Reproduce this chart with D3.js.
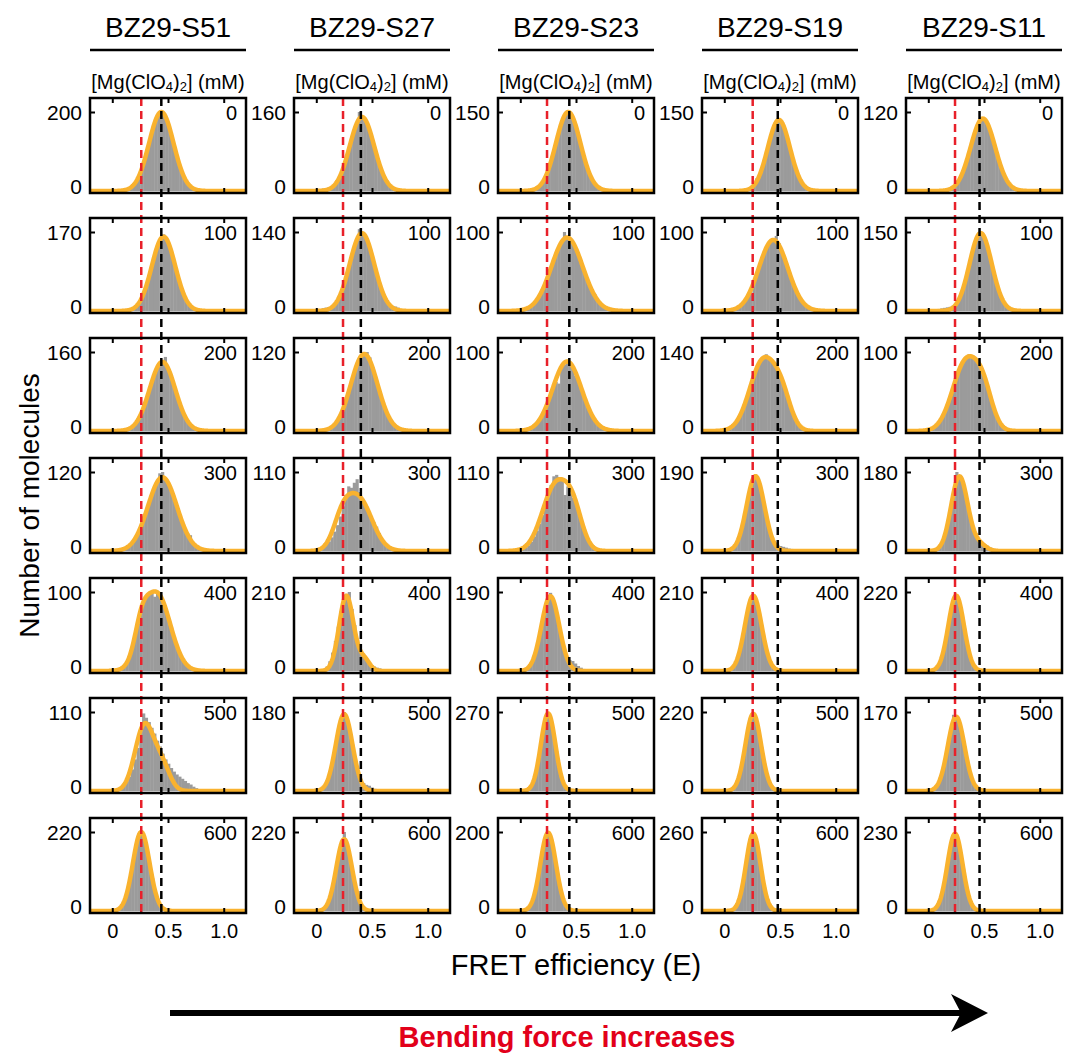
<!DOCTYPE html>
<html>
<head>
<meta charset="utf-8">
<script src="https://cdn.jsdelivr.net/npm/d3@7"></script>
<style>
body { margin: 0; background: #fff; }
text { font-family: "Liberation Sans", Arial, sans-serif; }
</style>
</head>
<body>
<div id="svgdiv"></div>
<script>
// samples (columns) and Mg(ClO4)2 concentration in mM (rows)
var samples = ["BZ29-S51", "BZ29-S27", "BZ29-S23", "BZ29-S19", "BZ29-S11"];
var concs = [0, 100, 200, 300, 400, 500, 600];

// y tick value printed on each panel
var yTicks = [
  [200, 170, 160, 120, 100, 110, 220],
  [160, 140, 120, 110, 210, 180, 220],
  [150, 100, 100, 110, 190, 270, 200],
  [150, 100, 140, 190, 210, 220, 260],
  [120, 150, 100, 180, 220, 170, 230]
];

// reference FRET values per sample (red dashed / black dashed)
var lowE = [0.26, 0.24, 0.24, 0.255, 0.24];
var highE = [0.44, 0.40, 0.44, 0.48, 0.46];

// histograms: centre of first bin, then counts (bin width 0.025)
var binW = 0.025;
var histStart = [
  [0.115, 0.16, 0.125, 0.075, 0.03, 0.005, 0.035],
  [0.01, 0.035, 0.005, -0.01, 0.07, 0.05, 0.05],
  [0.105, 0.02, 0.045, 0.0, 0.045, 0.05, 0.05],
  [0.115, 0.065, 0.0, 0.055, 0.035, 0.06, 0.06],
  [0.14, 0.045, -0.01, 0.055, 0.05, 0.025, 0.04]
];
var histCounts = [
  [
    [3,5,10,16,27,40,58,80,104,131,158,178,193,200,192,182,160,130,104,77,54,37,24,14,8,5,3],
    [3,5,10,17,27,40,58,80,101,125,144,158,165,157,142,122,100,78,56,38,25,15,8,4,2],
    [2,5,8,13,21,31,45,60,77,95,112,128,136,142,150,130,112,94,77,58,43,30,20,12,7,4,2],
    [1,3,5,8,12,17,25,36,52,55,70,84,96,106,118,120,108,103,93,82,70,57,44,34,27,24,12,8,5,3,2],
    [1,2,3,6,11,18,29,44,60,75,86,93,97,99,94,101,96,88,78,67,55,43,32,23,16,10,6,4,2,1],
    [1,2,3,5,8,13,20,30,44,60,82,108,102,96,88,80,70,62,52,44,38,32,27,23,20,17,14,11,9,6,4,2],
    [2,6,14,29,54,90,133,176,210,224,205,174,133,92,58,34,19,11,8,6,5,4,3,2,1]
  ],
  [
    [3,4,5,6,7,9,12,19,29,42,59,79,99,119,136,160,152,146,134,118,98,78,58,41,28,18,11,7,4,2],
    [3,5,6,7,8,11,17,26,39,55,72,91,109,126,145,140,135,124,108,90,71,54,38,26,17,11,9,8,6,3,1],
    [2,3,3,4,5,6,9,13,20,29,40,53,67,82,95,106,113,117,120,112,97,83,67,52,39,28,19,13,8,5,3,2],
    [2,3,4,6,9,13,19,27,36,48,62,78,90,88,95,100,82,72,62,52,44,40,34,25,16,10,6,3,2],
    [4,12,26,49,80,118,158,190,205,210,165,122,84,54,40,30,22,16,12,9,7,5,3,2],
    [3,10,23,43,70,104,138,165,180,168,140,106,74,46,28,18,14,12,8,5,3,1],
    [3,9,20,40,72,113,156,196,220,186,152,110,70,40,20,10,5,2]
  ],
  [
    [2,4,7,11,18,28,42,59,78,98,118,134,145,150,146,135,119,99,79,59,42,29,19,11,7,4,2],
    [2,3,4,6,9,14,19,25,33,43,52,62,72,81,88,100,94,90,86,80,71,61,52,42,33,27,21,14,9,6,4,3,2],
    [1,2,4,6,9,14,20,27,36,45,55,62,60,80,84,90,86,81,70,66,55,45,35,27,20,14,9,6,4,2,1],
    [2,3,5,8,13,20,28,38,50,62,75,92,104,106,103,100,78,90,80,74,64,52,40,30,20,13,8,5,3,2,1],
    [3,8,16,31,53,82,116,150,178,188,170,146,112,80,54,34,26,24,18,12,8,5,3,2],
    [2,7,18,42,81,136,197,244,268,248,198,136,82,44,20,9,4,2],
    [3,9,20,40,71,112,153,186,200,186,153,112,71,40,20,9,4,2]
  ],
  [
    [2,2,3,3,4,6,11,24,34,45,62,82,102,119,133,137,131,119,102,82,62,44,29,18,11,6,3,1],
    [1,2,4,6,10,14,20,22,36,46,57,67,76,84,88,92,95,86,76,67,57,46,36,28,20,14,10,6,4,2,1],
    [2,3,5,9,14,21,30,42,56,72,88,104,118,128,133,136,130,124,116,108,98,86,71,55,40,27,17,10,5,2,1],
    [3,8,16,31,53,82,116,150,176,184,170,146,114,80,52,32,20,15,12,10,8,6,5,4,3,2,1],
    [2,6,13,27,50,82,121,160,190,205,188,160,121,82,50,28,16,10,7,5,3,2,1],
    [4,9,22,43,77,121,167,202,215,202,167,121,77,43,22,10,5,2],
    [2,7,18,40,78,131,190,237,258,237,190,131,78,40,18,7,2]
  ],
  [
    [1,2,3,5,8,14,21,31,43,58,74,88,100,110,112,106,99,87,73,58,43,31,21,14,8,5,3,1],
    [2,3,4,5,6,7,8,10,14,20,32,48,68,90,112,131,145,150,143,131,112,90,68,48,32,20,12,7,3,2],
    [1,2,4,6,10,15,22,30,40,52,63,74,84,90,94,97,93,90,86,80,73,63,52,40,28,18,11,6,3,1],
    [2,5,11,24,44,72,106,140,180,172,158,130,100,74,50,34,26,20,16,12,8,5,3],
    [4,9,21,42,76,118,163,198,212,197,163,118,76,42,21,10,5,2],
    [2,5,11,22,40,66,97,130,164,160,150,128,97,66,40,22,11,5,2],
    [3,8,20,41,77,123,172,210,230,210,172,123,77,41,20,8,3]
  ]
];

// gaussian fits: components [amplitude, mean, sigma]
var fits = [
  [[[200,0.44,0.11]], [[160,0.46,0.105]], [[140,0.45,0.115]], [[112,0.45,0.13]],
   [[30,0.26,0.06],[98,0.40,0.12]], [[92,0.29,0.085],[32,0.45,0.07]], [[220,0.26,0.075]]],
  [[[150,0.41,0.11]], [[138,0.41,0.11]], [[117,0.43,0.12]], [[32,0.23,0.08],[72,0.38,0.12]],
   [[200,0.27,0.065],[30,0.43,0.05]], [[175,0.25,0.075]], [[200,0.25,0.07]]],
  [[[150,0.43,0.11]], [[93,0.42,0.14]], [[88,0.42,0.13]], [[92,0.32,0.12],[40,0.48,0.08]],
   [[180,0.27,0.08]], [[265,0.25,0.065]], [[198,0.25,0.07]]],
  [[[135,0.49,0.10]], [[90,0.44,0.13]], [[125,0.35,0.12],[45,0.52,0.08]], [[180,0.28,0.08]],
   [[200,0.26,0.075]], [[215,0.26,0.07]], [[255,0.26,0.065]]],
  [[[110,0.49,0.11]], [[148,0.47,0.10]], [[88,0.34,0.12],[35,0.50,0.08]], [[170,0.28,0.075],[14,0.46,0.06]],
   [[210,0.25,0.07]], [[160,0.25,0.075]], [[225,0.24,0.068]]]
];

var xTicks = [0, 0.5, 1.0];

var width = 1068, height = 1055;
var svg = d3.select("#svgdiv").append("svg")
  .attr("width", width)
  .attr("height", height);

var panelW = 156, panelH = 95;
function colLeft(c) { return 90 + c * 204; }
function rowTop(r) { return 98 + r * 120; }

var gray = "#9b9b9b", orange = "#f9b22e", red = "#e8202a";

function fitValue(comps, e) {
  var s = 0;
  comps.forEach(function(p) {
    s += p[0] * Math.exp(-Math.pow(e - p[1], 2) / (2 * p[2] * p[2]));
  });
  return s;
}

var eGrid = d3.range(-0.2, 1.2001, 0.004);

samples.forEach(function(name, c) {
  var x0 = colLeft(c);
  var x = d3.scaleLinear().domain([-0.2, 1.2]).range([x0, x0 + panelW]);

  // column heading with rule
  svg.append("text")
    .text(name)
    .attr("x", x0 + panelW / 2)
    .attr("y", 37)
    .attr("text-anchor", "middle")
    .style("font-size", "28px");

  svg.append("line")
    .attr("x1", x0).attr("x2", x0 + panelW)
    .attr("y1", 50).attr("y2", 50)
    .style("stroke", "black")
    .style("stroke-width", 2.5);

  var mg = svg.append("text")
    .attr("x", x0 + panelW / 2)
    .attr("y", 89)
    .attr("text-anchor", "middle")
    .style("font-size", "20px");
  mg.append("tspan").text("[Mg(ClO");
  mg.append("tspan").text("4").style("font-size", "13px").attr("dy", 2);
  mg.append("tspan").text(")").attr("dy", -2);
  mg.append("tspan").text("2").style("font-size", "13px").attr("dy", 2);
  mg.append("tspan").text("] (mM)").attr("dy", -2);

  concs.forEach(function(conc, r) {
    var top = rowTop(r);
    var bottom = top + panelH;
    var y = d3.scaleLinear()
      .domain([0, yTicks[c][r]])
      .range([bottom - 2, top + 14]);

    var clipId = "clip" + c + "_" + r;
    svg.append("clipPath").attr("id", clipId)
      .append("rect")
      .attr("x", x0).attr("y", top)
      .attr("width", panelW).attr("height", panelH);

    var g = svg.append("g").attr("clip-path", "url(#" + clipId + ")");

    // histogram
    var start = histStart[c][r];
    g.selectAll("rect.bar")
      .data(histCounts[c][r])
      .join("rect")
      .attr("class", "bar")
      .attr("x", function(d, i) { return x(start + i * binW - binW / 2); })
      .attr("width", x(binW) - x(0) + 0.4)
      .attr("y", function(d) { return y(d); })
      .attr("height", function(d) { return y(0) - y(d); })
      .style("fill", gray);

    // gaussian fit
    var line = d3.line()
      .x(function(e) { return x(e); })
      .y(function(e) { return y(fitValue(fits[c][r], e)); });
    g.append("path")
      .datum(eGrid)
      .attr("d", line)
      .style("fill", "none")
      .style("stroke", orange)
      .style("stroke-width", 4.5)
      .style("stroke-linejoin", "round");

    // inward ticks on top and bottom
    svg.append("g")
      .attr("transform", "translate(0," + top + ")")
      .call(d3.axisBottom(x).tickValues(xTicks).tickSize(5).tickFormat(""))
      .call(function(a) { a.select(".domain").remove(); })
      .selectAll("line").style("stroke-width", 2);
    svg.append("g")
      .attr("transform", "translate(0," + bottom + ")")
      .call(d3.axisTop(x).tickValues(xTicks).tickSize(5).tickFormat(""))
      .call(function(a) { a.select(".domain").remove(); })
      .selectAll("line").style("stroke-width", 2);

    // y tick and labels
    svg.append("g")
      .attr("transform", "translate(" + x0 + ",0)")
      .call(d3.axisRight(y).tickValues([yTicks[c][r]]).tickSize(5).tickFormat(""))
      .call(function(a) { a.select(".domain").remove(); })
      .selectAll("line").style("stroke-width", 2);
    var ya = svg.append("g")
      .attr("transform", "translate(" + x0 + ",0)")
      .call(d3.axisLeft(y).tickValues([0, yTicks[c][r]]).tickSize(0).tickPadding(8))
      .call(function(a) { a.select(".domain").remove(); });
    ya.selectAll("text")
      .style("font-size", "21px")
      .style("font-family", "'Liberation Sans', Arial, sans-serif")
      .attr("dy", function(d) { return d === 0 ? "0.1em" : "0.35em"; });

    // concentration label
    svg.append("text")
      .text(conc)
      .attr("x", x0 + panelW - 9)
      .attr("y", top + 22)
      .attr("text-anchor", "end")
      .style("font-size", "20px");

    // x labels on the last row
    if (r === concs.length - 1) {
      var xa = svg.append("g")
        .attr("transform", "translate(0," + bottom + ")")
        .call(d3.axisBottom(x).tickValues(xTicks).tickSize(0).tickPadding(11)
          .tickFormat(function(d) { return d === 0 ? "0" : d3.format(".1f")(d); }))
        .call(function(a) { a.select(".domain").remove(); });
      xa.selectAll("text")
        .style("font-size", "20px")
        .style("font-family", "'Liberation Sans', Arial, sans-serif");
    }
  });

  // reference lines through the whole column
  var yTop = rowTop(0), yBot = rowTop(concs.length - 1) + panelH;
  svg.append("line")
    .attr("x1", x(lowE[c])).attr("x2", x(lowE[c]))
    .attr("y1", yTop).attr("y2", yBot)
    .style("stroke", red)
    .style("stroke-width", 2.5)
    .style("stroke-dasharray", "8,5");
  svg.append("line")
    .attr("x1", x(highE[c])).attr("x2", x(highE[c]))
    .attr("y1", yTop).attr("y2", yBot)
    .style("stroke", "black")
    .style("stroke-width", 2.5)
    .style("stroke-dasharray", "8,5");

  // panel frames on top
  concs.forEach(function(conc, r) {
    svg.append("rect")
      .attr("x", x0).attr("y", rowTop(r))
      .attr("width", panelW).attr("height", panelH)
      .style("fill", "none")
      .style("stroke", "black")
      .style("stroke-width", 2.5);
  });
});

// axis titles
svg.append("text")
  .text("Number of molecules")
  .attr("transform", "translate(39," + (rowTop(0) + (rowTop(6) + panelH - rowTop(0)) / 2) + ") rotate(-90)")
  .attr("text-anchor", "middle")
  .style("font-size", "28px");

svg.append("text")
  .text("FRET efficiency (E)")
  .attr("x", (colLeft(0) + colLeft(4) + panelW) / 2)
  .attr("y", 975)
  .attr("text-anchor", "middle")
  .style("font-size", "29px");

// arrow
svg.append("line")
  .attr("x1", 170).attr("x2", 962)
  .attr("y1", 1013).attr("y2", 1013)
  .style("stroke", "black")
  .style("stroke-width", 6);
svg.append("path")
  .attr("d", "M988,1013 L951,994 L961,1013 L951,1032 Z")
  .style("fill", "black");

svg.append("text")
  .text("Bending force increases")
  .attr("x", 567)
  .attr("y", 1047)
  .attr("text-anchor", "middle")
  .style("font-size", "29px")
  .style("font-weight", "bold")
  .style("fill", "#e2001a");
</script>
</body>
</html>
